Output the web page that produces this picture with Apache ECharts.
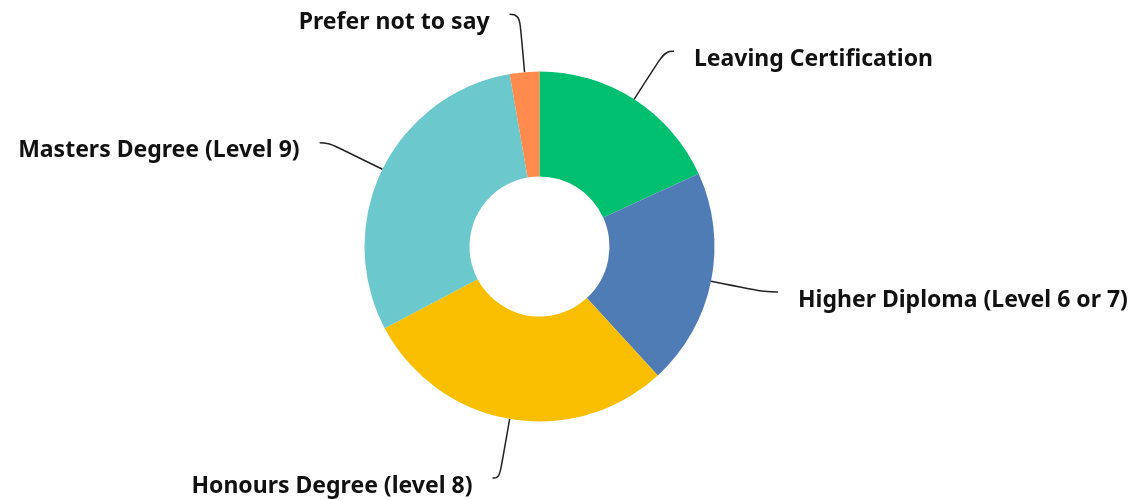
<!DOCTYPE html>
<html>
<head>
<meta charset="utf-8">
<style>
  html, body { margin: 0; padding: 0; background: #ffffff; }
  #chart { width: 1145px; height: 500px; }
</style>
<script src="https://cdn.jsdelivr.net/npm/echarts@6/dist/echarts.min.js"></script>
</head>
<body>
<div id="chart"></div>
<script>
// Highest education level of respondents
const categories = [
  'Leaving Certification',
  'Higher Diploma (Level 6 or 7)',
  'Honours Degree (level 8)',
  'Masters Degree (Level 9)',
  'Prefer not to say'
];
const counts = [20, 22, 32, 33, 3];

const sliceColors = ['#00BF6F', '#507CB6', '#F9BE00', '#6BC8CD', '#FF8B4F'];
// leader line segment lengths per slice: [radial, horizontal]
const leaderLengths = [[57, 9], [54, 14], [60, 7], [60, 9], [58, 10]];

const chart = echarts.init(document.getElementById('chart'), null, { renderer: 'canvas' });

const seriesData = categories.map((name, i) => ({
  name: name,
  value: counts[i],
  itemStyle: { color: sliceColors[i] },
  labelLine: { length: leaderLengths[i][0], length2: leaderLengths[i][1] }
}));

const labelFont = {
  color: '#111111',
  fontFamily: '"Noto Sans", sans-serif',
  fontWeight: 'bold',
  fontSize: 23
};

chart.setOption({
  animation: false,
  backgroundColor: '#ffffff',
  series: [{
    type: 'pie',
    center: [539.5, 246.5],
    radius: [70, 175],
    startAngle: 90,
    clockwise: true,
    avoidLabelOverlap: false,
    itemStyle: { borderWidth: 0 },
    emphasis: { disabled: true },
    label: {
      show: true,
      position: 'outside',
      formatter: '{t|{b}}',
      ...labelFont,
      rich: {
        // extra top padding drops the text a little below the leader line end
        t: Object.assign({ padding: [16, 0, 0, 0] }, labelFont)
      },
      distanceToLabelLine: 20,
      overflow: 'none'
    },
    labelLine: {
      show: true,
      smooth: 0.5,
      lineStyle: { color: '#222222', width: 1.5 }
    },
    data: seriesData
  }]
});
</script>
</body>
</html>
